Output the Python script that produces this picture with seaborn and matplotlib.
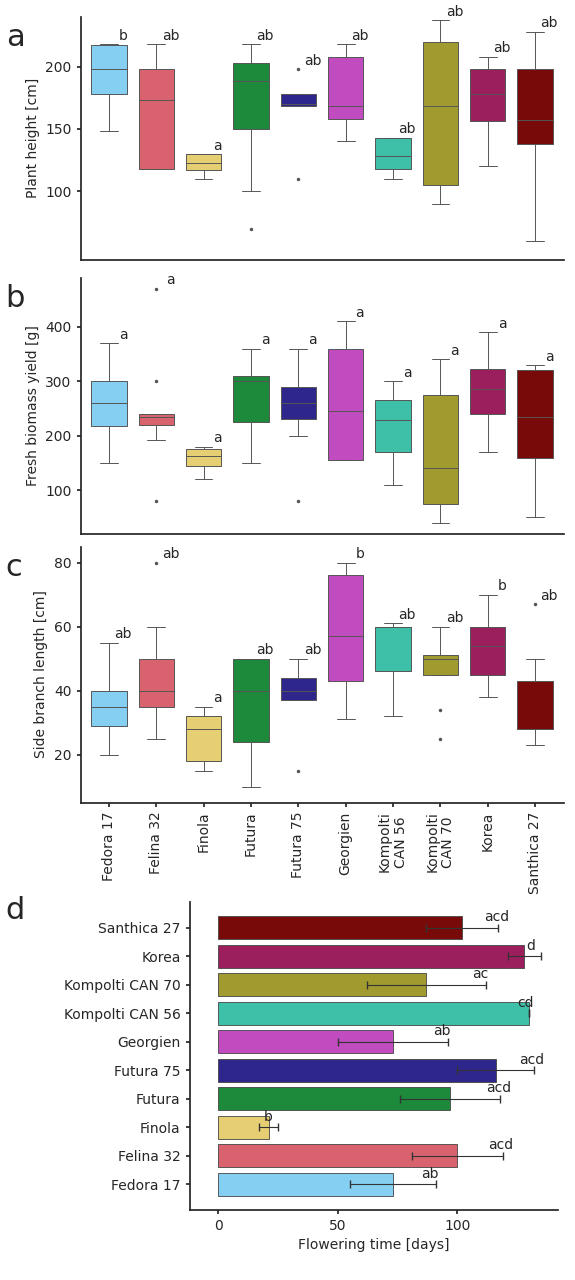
import matplotlib
matplotlib.use("Agg")
import matplotlib.pyplot as plt
import seaborn as sns
import pandas as pd
import numpy as np

sns.set_theme(style="white")
plt.rcParams['font.family'] = ['DejaVu Sans']

varieties = ["Fedora 17", "Felina 32", "Finola", "Futura", "Futura 75", "Georgien",
             "Kompolti CAN 56", "Kompolti CAN 70", "Korea", "Santhica 27"]
tick_labels = ["Fedora 17", "Felina 32", "Finola", "Futura", "Futura 75", "Georgien",
               "Kompolti\nCAN 56", "Kompolti\nCAN 70", "Korea", "Santhica 27"]
colors = ["#85cff2", "#d8636f", "#e6cf72", "#1c8a3a", "#2f268c", "#c04cc0",
          "#3dbfa8", "#a19b2f", "#9b1f5c", "#780a0a"]

# per-variety observations (9 each)
height = {
    "Fedora 17": [148, 165, 178, 190, 198, 205, 217, 218, 218],
    "Felina 32": [118, 118, 118, 150, 173, 185, 198, 210, 218],
    "Finola": [110, 115, 117, 120, 123, 127, 130, 130, 130],
    "Futura": [70, 100, 150, 170, 188, 195, 203, 210, 218],
    "Futura 75": [110, 168, 168, 169, 170, 174, 178, 178, 198],
    "Georgien": [140, 150, 158, 163, 168, 190, 208, 212, 218],
    "Kompolti CAN 56": [110, 115, 118, 123, 128, 135, 143, 143, 143],
    "Kompolti CAN 70": [90, 100, 105, 140, 168, 200, 220, 230, 237],
    "Korea": [120, 140, 156, 170, 178, 190, 198, 203, 208],
    "Santhica 27": [60, 110, 138, 150, 157, 180, 198, 210, 228],
}
biomass = {
    "Fedora 17": [150, 190, 218, 240, 260, 280, 300, 340, 370],
    "Felina 32": [80, 192, 220, 230, 235, 238, 240, 300, 470],
    "Finola": [120, 135, 145, 155, 163, 170, 175, 178, 180],
    "Futura": [150, 190, 225, 270, 300, 305, 310, 340, 360],
    "Futura 75": [80, 200, 230, 245, 260, 275, 290, 330, 360],
    "Georgien": [155, 155, 155, 200, 245, 300, 360, 390, 410],
    "Kompolti CAN 56": [110, 140, 170, 200, 228, 250, 265, 285, 300],
    "Kompolti CAN 70": [40, 60, 75, 110, 140, 220, 275, 310, 340],
    "Korea": [170, 210, 240, 265, 285, 300, 322, 360, 390],
    "Santhica 27": [50, 110, 160, 200, 235, 280, 320, 325, 330],
}
branch = {
    "Fedora 17": [20, 25, 29, 32, 35, 38, 40, 48, 55],
    "Felina 32": [25, 30, 35, 38, 40, 45, 50, 60, 80],
    "Finola": [15, 16, 18, 24, 28, 30, 32, 34, 35],
    "Futura": [10, 18, 24, 32, 40, 45, 50, 50, 50],
    "Futura 75": [15, 37, 37, 38, 40, 42, 44, 47, 50],
    "Georgien": [31, 37, 43, 50, 57, 66, 76, 78, 80],
    "Kompolti CAN 56": [32, 40, 46, 55, 60, 60, 60, 61, 61],
    "Kompolti CAN 70": [25, 34, 45, 48, 50, 50, 51, 55, 60],
    "Korea": [38, 42, 45, 50, 54, 57, 60, 65, 70],
    "Santhica 27": [23, 26, 28, 28, 28, 35, 43, 50, 67],
}
letters_a = ["b", "ab", "a", "ab", "ab", "ab", "ab", "ab", "ab", "ab"]
letters_b = ["a"] * 10
letters_c = ["ab", "ab", "a", "ab", "ab", "b", "ab", "ab", "b", "ab"]

flower_days = [73, 100, 21, 97, 116, 73, 130, 87, 128, 102]
flower_err = [18, 19, 4, 21, 16, 23, 0, 25, 7, 15]
letters_d = ["ab", "acd", "b", "acd", "acd", "ab", "cd", "ac", "d", "acd"]

def long(d):
    rows = [(k, v) for k in varieties for v in d[k]]
    return pd.DataFrame(rows, columns=["variety", "value"])

fig = plt.figure(figsize=(5.75, 12.8), dpi=100)
axes = [fig.add_axes([0.14, 0.797, 0.84, 0.19]),
        fig.add_axes([0.14, 0.583, 0.84, 0.2]),
        fig.add_axes([0.14, 0.373, 0.84, 0.2])]
axd = fig.add_axes([0.33, 0.055, 0.64, 0.24])

specs = [(height, letters_a, "Plant height [cm]", (45, 240), [100, 150, 200], "a"),
         (biomass, letters_b, "Fresh biomass yield [g]", (20, 490), [100, 200, 300, 400], "b"),
         (branch, letters_c, "Side branch length [cm]", (5, 85), [20, 40, 60, 80], "c")]

for i, (ax, (d, lets, yl, ylim, yt, pl)) in enumerate(zip(axes, specs)):
    df = long(d)
    sns.boxplot(data=df, x="variety", y="value", hue="variety", palette=colors,
                legend=False, ax=ax, width=0.75, linecolor="#555555", linewidth=0.7,
                saturation=1, flierprops=dict(marker="o", markersize=1.5,
                                              markerfacecolor="#555555", markeredgecolor="#555555"))
    for j, v in enumerate(varieties):
        top = max(d[v])
        ax.text(j + 0.3, top + (ylim[1] - ylim[0]) * 0.005, lets[j], fontsize=10,
                ha="center", va="bottom")
    ax.set_ylim(*ylim)
    ax.set_yticks(yt)
    ax.set_xlim(-0.6, 9.6)
    ax.set_ylabel(yl, fontsize=10)
    ax.set_xlabel("")
    ax.tick_params(axis="y", labelsize=10, length=3, left=True)
    sns.despine(ax=ax)
    ax.set_xticks(range(10))
    if i < 2:
        ax.set_xticklabels([])
        ax.tick_params(axis="x", length=0)
    else:
        ax.set_xticklabels(tick_labels, rotation=90, fontsize=10)
        ax.tick_params(axis="x", length=3, bottom=True)
    fig.text(0.01, ax.get_position().y1 - 0.005, pl, fontsize=22, va="top")

dfd = pd.DataFrame({"variety": varieties, "days": flower_days})
order = varieties[::-1]
sns.barplot(data=dfd, y="variety", x="days", hue="variety", order=order,
            palette=dict(zip(varieties, colors)), legend=False, ax=axd,
            edgecolor="#444444", linewidth=0.6, width=0.8, saturation=1)
for j, v in enumerate(order):
    k = varieties.index(v)
    axd.errorbar(flower_days[k], j, xerr=flower_err[k], color="#333333",
                 capsize=3, linewidth=0.8)
    axd.text(flower_days[k] + max(flower_err[k], 1) - 6, j - 0.12, letters_d[k],
             fontsize=10, ha="left", va="bottom")
axd.set_xlim(-12, 142)
axd.set_xticks([0, 50, 100])
axd.set_xlabel("Flowering time [days]", fontsize=10)
axd.set_ylabel("")
axd.tick_params(labelsize=10, length=3, bottom=True, left=True)
sns.despine(ax=axd)
fig.text(0.01, 0.3, "d", fontsize=22, va="top")

fig.savefig("out.png", dpi=100)
